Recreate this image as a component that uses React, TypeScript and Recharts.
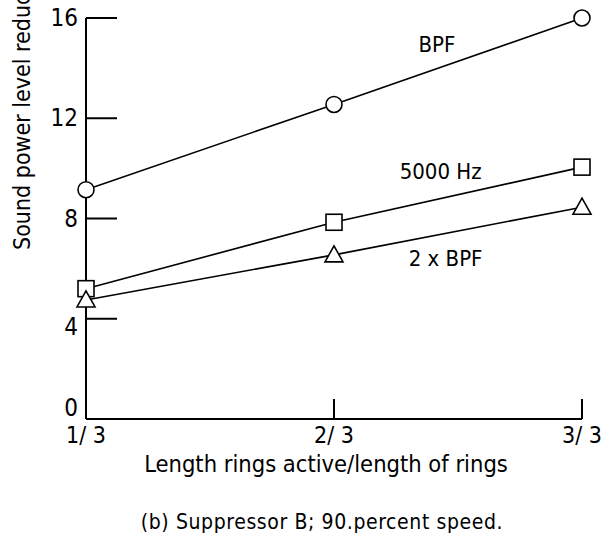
import { LineChart, Line, XAxis, YAxis, ReferenceDot } from "recharts";

const FONT = "'DejaVu Sans Condensed', 'DejaVu Sans', sans-serif";

const ratios = [1, 2, 3];
const ratioLabels = ["1/ 3", "2/ 3", "3/ 3"];
const bpf = [9.15, 12.55, 16.0];
const hz5000 = [5.2, 7.85, 10.05];
const twoBpf = [4.75, 6.55, 8.45];
const yTicks = [0, 4, 8, 12, 16];

const data = ratios.map((r, i) => ({
  x: r,
  bpf: bpf[i],
  hz5000: hz5000[i],
  twoBpf: twoBpf[i],
}));

const annotations = [
  { x: 2.415, y: 14.95, text: "BPF" },
  { x: 2.43, y: 9.86, text: "5000 Hz" },
  { x: 2.45, y: 6.42, text: "2 x BPF" },
];

const txt = { fontFamily: FONT };

const CircleDot = (p: any) => (
  <circle cx={p.cx} cy={p.cy} r={8} fill="#fff" stroke="#000" strokeWidth={1.6} />
);
const SquareDot = (p: any) => (
  <rect x={p.cx - 8} y={p.cy - 8} width={16} height={16} fill="#fff" stroke="#000" strokeWidth={1.6} />
);
const TriangleDot = (p: any) => (
  <path
    d={`M${p.cx},${p.cy - 9} L${p.cx + 9},${p.cy + 7} L${p.cx - 9},${p.cy + 7} Z`}
    fill="#fff"
    stroke="#000"
    strokeWidth={1.6}
  />
);

const AnnotationText = (text: string) => (p: any) => (
  <text x={p.cx} y={p.cy} textAnchor="middle" dominantBaseline="central" fontSize={22} style={txt} fill="#000">
    {text}
  </text>
);

// "0" sits above the x axis and "4" a little below its tick, as in the original
const YTick = (p: any) => {
  const v = p.payload.value;
  const dy = v === 0 ? -11 : v === 4 ? 8 : 0;
  return (
    <text x={p.x} y={p.y + dy} textAnchor="end" dominantBaseline="central" fontSize={24} style={txt} fill="#000">
      {v}
    </text>
  );
};

const XTick = (p: any) => (
  <text x={p.x} y={p.y} textAnchor="middle" dominantBaseline="hanging" fontSize={23} style={txt} fill="#000">
    {ratioLabels[ratios.indexOf(p.payload.value)]}
  </text>
);

const XLabel = (p: any) => {
  const vb = p.viewBox;
  const cx = vb.x + vb.width / 2 - 8;
  return (
    <g style={txt} fill="#000">
      <text x={cx} y={vb.y + 53} textAnchor="middle" fontSize={23.5}>
        Length rings active/length of rings
      </text>
      <text x={cx - 4} y={vb.y + 110} textAnchor="middle" fontSize={21} letterSpacing={0.6}>
        (b) Suppressor B; 90.percent speed.
      </text>
    </g>
  );
};

const YLabel = () => (
  <text
    x={22}
    y={250}
    transform="rotate(-90 22 250)"
    textAnchor="start"
    dominantBaseline="central"
    fontSize={23}
    style={txt}
    fill="#000"
  >
    Sound power level reduction, dB
  </text>
);

export default function App() {
  return (
    <div style={{ position: "absolute", left: 0, top: 0, background: "#fff" }}>
      <LineChart width={601} height={543} data={data} margin={{ top: 18, right: 19, bottom: 0, left: 0 }}>
        <XAxis
          dataKey="x"
          type="number"
          domain={[1, 3]}
          ticks={ratios}
          height={124}
          stroke="#000"
          strokeWidth={2}
          tickSize={-20}
          tickMargin={27}
          tick={<XTick />}
          label={<XLabel />}
        />
        <YAxis
          type="number"
          domain={[0, 16]}
          ticks={yTicks}
          width={86}
          stroke="#000"
          strokeWidth={2}
          tickSize={-31}
          tickMargin={39}
          tick={<YTick />}
          label={<YLabel />}
        />
        <Line dataKey="bpf" stroke="#000" strokeWidth={1.6} dot={<CircleDot />} isAnimationActive={false} />
        <Line dataKey="hz5000" stroke="#000" strokeWidth={1.6} dot={<SquareDot />} isAnimationActive={false} />
        <Line dataKey="twoBpf" stroke="#000" strokeWidth={1.6} dot={<TriangleDot />} isAnimationActive={false} />
        {annotations.map((a) => (
          <ReferenceDot key={a.text} x={a.x} y={a.y} r={0} shape={AnnotationText(a.text)} ifOverflow="visible" />
        ))}
      </LineChart>
    </div>
  );
}
